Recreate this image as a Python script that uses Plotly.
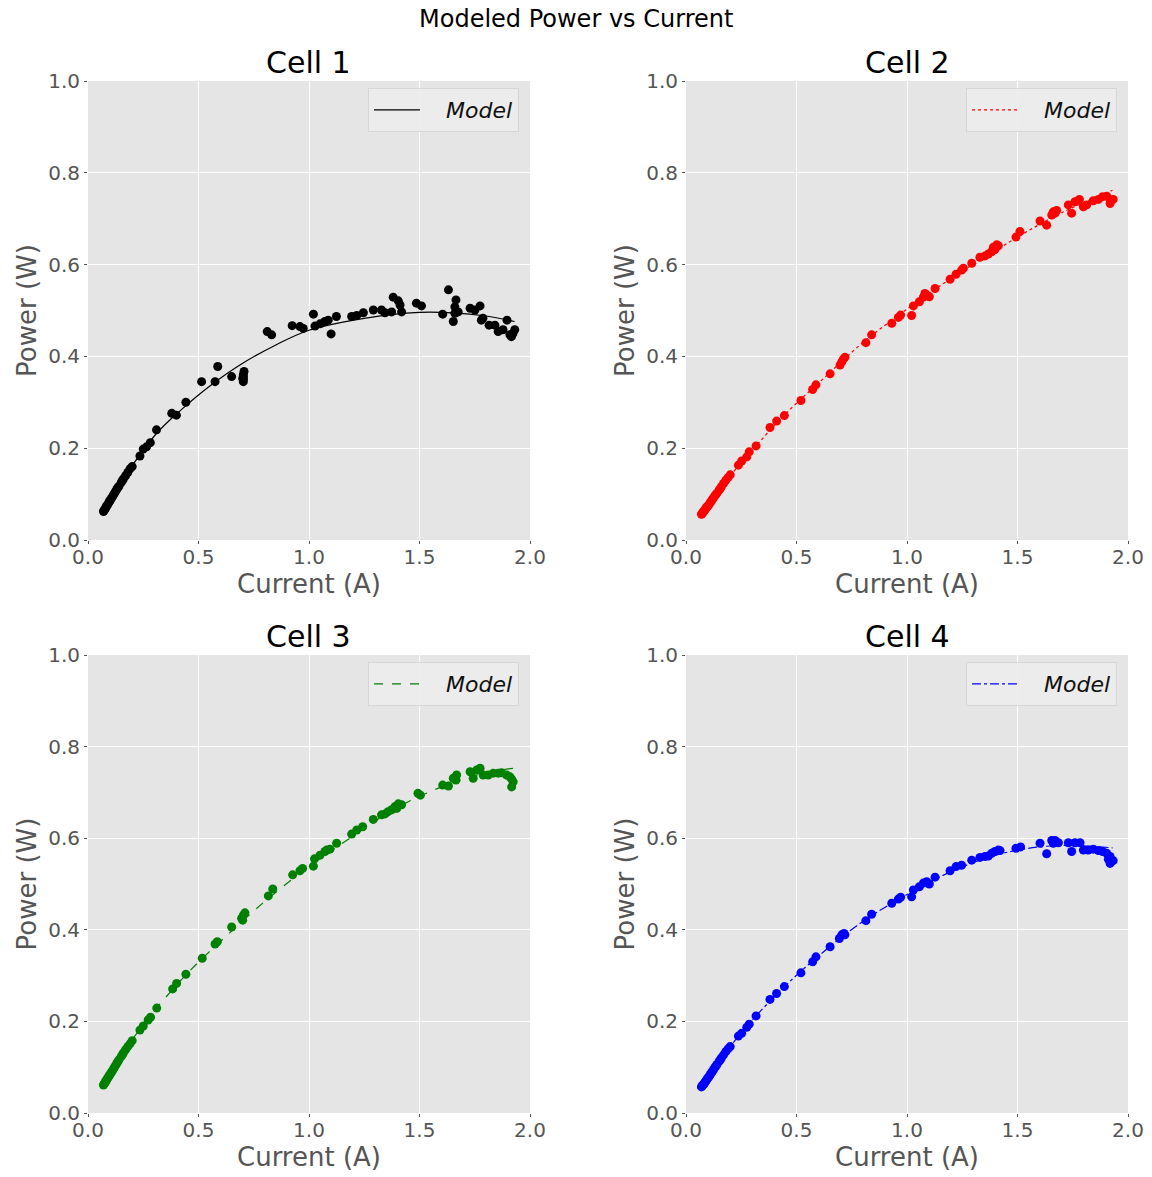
import plotly.graph_objects as go

# ---------------- data ----------------
cells = ["Cell 1", "Cell 2", "Cell 3", "Cell 4"]
colors = ["#000000", "#ff0000", "#008000", "#0000ff"]
dashes = ["solid", "dot", "dash", "dashdot"]

x_ticks = [0.0, 0.5, 1.0, 1.5, 2.0]
x_tick_labels = ["0.0", "0.5", "1.0", "1.5", "2.0"]
y_ticks = [0.0, 0.2, 0.4, 0.6, 0.8, 1.0]
y_tick_labels = ["0.0", "0.2", "0.4", "0.6", "0.8", "1.0"]

low_I = [0.07, 0.072, 0.075, 0.078, 0.08, 0.083, 0.086, 0.09, 0.093, 0.097, 0.10, 0.105, 0.11,
         0.115, 0.12, 0.125, 0.13, 0.135, 0.14, 0.15, 0.155, 0.16, 0.17, 0.18, 0.19, 0.20]

I1 = low_I + [0.235, 0.25, 0.265, 0.282, 0.31, 0.379, 0.40, 0.443, 0.514, 0.575, 0.587, 0.65,
              0.703, 0.703, 0.703, 0.703, 0.706, 0.700, 0.811, 0.831, 0.924, 0.959, 0.974,
              1.02, 1.027, 1.05, 1.072, 1.087, 1.10, 1.124, 1.193, 1.216, 1.246, 1.291,
              1.328, 1.344, 1.374, 1.381, 1.404, 1.419, 1.412, 1.486, 1.509,
              1.605, 1.631, 1.653, 1.665, 1.66, 1.66, 1.675, 1.729, 1.751, 1.774, 1.78, 1.787,
              1.815, 1.841, 1.856, 1.878, 1.896, 1.909, 1.916, 1.931, 1.923]
P1 = [0.062, 0.064, 0.066, 0.068, 0.070, 0.073, 0.075, 0.078, 0.081, 0.084, 0.086, 0.090, 0.094,
      0.098, 0.102, 0.106, 0.110, 0.114, 0.117, 0.125, 0.129, 0.133, 0.140, 0.147, 0.155, 0.160,
      0.183, 0.198, 0.203, 0.212, 0.24, 0.276, 0.272, 0.30, 0.345, 0.345, 0.378, 0.356,
      0.345, 0.35, 0.355, 0.36, 0.367, 0.352, 0.454, 0.447, 0.467, 0.465, 0.461,
      0.492, 0.466, 0.471, 0.476, 0.479, 0.449, 0.487, 0.487, 0.489, 0.495, 0.501,
      0.501, 0.495, 0.497, 0.529, 0.521, 0.497, 0.512, 0.516, 0.510,
      0.492, 0.545, 0.476, 0.523, 0.508, 0.494, 0.497, 0.505, 0.501, 0.510, 0.479, 0.483,
      0.468, 0.468, 0.454, 0.458, 0.479, 0.447, 0.443, 0.458, 0.450]

I2 = low_I + [0.237, 0.252, 0.275, 0.286, 0.317, 0.38, 0.41, 0.445, 0.52, 0.573, 0.588, 0.652,
              0.697, 0.705, 0.712, 0.719,
              0.814, 0.84, 0.931, 0.961, 0.971, 1.021, 1.029, 1.056, 1.074, 1.089, 1.101, 1.081,
              1.127, 1.195, 1.222, 1.247, 1.255, 1.293,
              1.330, 1.353, 1.368, 1.383, 1.391, 1.406, 1.413, 1.398, 1.493, 1.511, 1.602, 1.632,
              1.655, 1.662, 1.677, 1.670, 1.730, 1.745,
              1.760, 1.780, 1.798, 1.813, 1.843, 1.866, 1.885, 1.904, 1.919, 1.933, 1.919]
P2 = [0.056, 0.057, 0.059, 0.061, 0.062, 0.064, 0.066, 0.069, 0.071, 0.073, 0.075, 0.078, 0.082,
      0.085, 0.089, 0.092, 0.096, 0.099, 0.102, 0.109, 0.112, 0.116, 0.123, 0.130, 0.136, 0.142,
      0.163, 0.172, 0.181, 0.192, 0.205, 0.245, 0.259, 0.271, 0.304, 0.328, 0.338, 0.362,
      0.381, 0.388, 0.394, 0.398,
      0.43, 0.447, 0.472, 0.485, 0.49, 0.489, 0.51, 0.519, 0.529, 0.534, 0.530, 0.537,
      0.548, 0.568, 0.579, 0.588, 0.592, 0.603,
      0.616, 0.619, 0.623, 0.628, 0.638, 0.643, 0.641, 0.633, 0.660, 0.672, 0.695, 0.686,
      0.708, 0.715, 0.718, 0.712, 0.730, 0.712,
      0.737, 0.742, 0.726, 0.730, 0.739, 0.742, 0.748, 0.749, 0.742, 0.742, 0.733]

I3 = low_I + [0.235, 0.25, 0.272, 0.283, 0.311, 0.383, 0.401, 0.443, 0.517, 0.575, 0.585, 0.65,
              0.695, 0.703, 0.710, 0.700,
              0.816, 0.836, 0.926, 0.959, 0.971, 1.02, 1.025, 1.05, 1.072, 1.095, 1.08, 1.125,
              1.193, 1.216, 1.243, 1.291,
              1.328, 1.344, 1.358, 1.374, 1.389, 1.404, 1.419, 1.397, 1.493, 1.504, 1.605, 1.631,
              1.653, 1.668, 1.665,
              1.729, 1.743, 1.759, 1.774, 1.788, 1.811, 1.834, 1.856, 1.871, 1.894, 1.917, 1.924,
              1.917, 1.909]
P3 = [0.061, 0.063, 0.065, 0.067, 0.069, 0.071, 0.074, 0.077, 0.079, 0.082, 0.085, 0.088, 0.092,
      0.096, 0.100, 0.104, 0.108, 0.112, 0.116, 0.123, 0.127, 0.131, 0.138, 0.145, 0.151, 0.158,
      0.181, 0.19, 0.203, 0.209, 0.229, 0.271, 0.283, 0.303, 0.338, 0.369, 0.374, 0.406,
      0.425, 0.432, 0.437, 0.421,
      0.474, 0.489, 0.520, 0.529, 0.534, 0.539, 0.555, 0.563, 0.571, 0.576, 0.574, 0.589,
      0.609, 0.618, 0.625, 0.641,
      0.651, 0.653, 0.658, 0.662, 0.669, 0.675, 0.673, 0.665, 0.698, 0.694, 0.716, 0.714,
      0.731, 0.738, 0.727,
      0.745, 0.731, 0.749, 0.753, 0.738, 0.738, 0.742, 0.742, 0.743, 0.738, 0.729, 0.723,
      0.712, 0.734]

I4 = low_I + [0.237, 0.252, 0.275, 0.286, 0.317, 0.38, 0.41, 0.445, 0.52, 0.573, 0.588, 0.652,
              0.694, 0.705, 0.715, 0.719,
              0.814, 0.84, 0.931, 0.961, 0.971, 1.021, 1.029, 1.056, 1.074, 1.089, 1.101, 1.127,
              1.195, 1.222, 1.247, 1.293,
              1.330, 1.353, 1.368, 1.383, 1.398, 1.413, 1.421, 1.493, 1.514, 1.602, 1.632, 1.655,
              1.670, 1.685, 1.662,
              1.730, 1.745, 1.760, 1.783, 1.798, 1.820, 1.843, 1.866, 1.885, 1.904, 1.919, 1.933,
              1.919, 1.911]
P4 = [0.057, 0.058, 0.060, 0.062, 0.063, 0.065, 0.067, 0.070, 0.072, 0.075, 0.077, 0.080, 0.084,
      0.088, 0.091, 0.095, 0.099, 0.102, 0.106, 0.113, 0.116, 0.120, 0.127, 0.134, 0.140, 0.145,
      0.168, 0.174, 0.187, 0.194, 0.212, 0.248, 0.261, 0.276, 0.306, 0.330, 0.341, 0.363,
      0.381, 0.389, 0.392, 0.389,
      0.420, 0.434, 0.458, 0.467, 0.471, 0.472, 0.487, 0.494, 0.502, 0.505, 0.500, 0.515,
      0.529, 0.538, 0.541, 0.552,
      0.558, 0.560, 0.561, 0.567, 0.571, 0.574, 0.573, 0.578, 0.581, 0.589, 0.566, 0.595,
      0.595, 0.590, 0.589,
      0.590, 0.571, 0.590, 0.590, 0.574, 0.574, 0.576, 0.573, 0.571, 0.567, 0.560, 0.551,
      0.545, 0.554]

M1x = [0.07, 0.19, 0.31, 0.42, 0.55, 0.7, 0.85, 1.0, 1.25, 1.5, 1.65, 1.8, 1.93]
M1y = [0.063, 0.155, 0.232, 0.283, 0.335, 0.385, 0.425, 0.457, 0.483, 0.496, 0.495, 0.488, 0.476]
M2x = [0.07, 0.2, 0.3, 0.4, 0.5, 0.6, 0.8, 1.0, 1.2, 1.4, 1.5, 1.7, 1.93]
M2y = [0.055, 0.14, 0.195, 0.25, 0.298, 0.342, 0.43, 0.503, 0.57, 0.63, 0.66, 0.713, 0.762]
M3x = [0.07, 0.2, 0.3, 0.45, 0.6, 0.8, 1.0, 1.2, 1.4, 1.6, 1.8, 1.93]
M3y = [0.062, 0.16, 0.223, 0.305, 0.375, 0.462, 0.538, 0.605, 0.667, 0.712, 0.743, 0.753]
M4x = [0.07, 0.2, 0.3, 0.45, 0.6, 0.8, 1.0, 1.2, 1.4, 1.6, 1.75, 1.93]
M4y = [0.058, 0.145, 0.203, 0.278, 0.343, 0.418, 0.477, 0.527, 0.563, 0.581, 0.584, 0.579]

currents = [I1, I2, I3, I4]
powers = [P1, P2, P3, P4]
model_x = [M1x, M2x, M3x, M4x]
model_y = [M1y, M2y, M3y, M4y]

# ---------------- layout geometry ----------------
W, H = 1152, 1177
FONT = "DejaVu Sans"
GRAY = "#555555"

x_domains = [(88 / W, 530 / W), (686 / W, 1128 / W)]
y_domains = [(1 - 540 / H, 1 - 81 / H), (1 - 1113 / H, 1 - 655 / H)]

fig = go.Figure()
layout = dict(
    width=W, height=H,
    margin=dict(l=0, r=0, t=0, b=0, autoexpand=False),
    paper_bgcolor="white",
    plot_bgcolor="#E5E5E5",
    font=dict(family=FONT, color=GRAY),
    showlegend=True,
    annotations=[],
)

for k in range(4):
    r, c = divmod(k, 2)
    sfx = "" if k == 0 else str(k + 1)
    xa, ya = "x" + sfx, "y" + sfx
    leg = "legend" + sfx

    fig.add_trace(go.Scatter(
        x=currents[k], y=powers[k], mode="markers",
        marker=dict(color=colors[k], size=9, line=dict(width=0)),
        xaxis=xa, yaxis=ya, showlegend=False, hoverinfo="x+y"))
    fig.add_trace(go.Scatter(
        x=model_x[k], y=model_y[k], mode="lines", name="\u00a0\u00a0\u00a0Model",
        line=dict(color=colors[k], width=1.2, dash=dashes[k], shape="spline"),
        xaxis=xa, yaxis=ya, legend=leg, showlegend=True))

    axis_common = dict(
        showgrid=True, gridcolor="white", gridwidth=1.2, zeroline=False,
        showline=False, ticks="outside", ticklen=3, tickwidth=1, tickcolor=GRAY,
        tickfont=dict(family=FONT, size=20, color=GRAY), automargin=False,
    )
    layout["xaxis" + sfx] = dict(
        axis_common, domain=x_domains[c], range=[0, 2], anchor=ya,
        tickvals=x_ticks, ticktext=x_tick_labels, ticklabelstandoff=-4,
        title=dict(text="Current (A)", font=dict(family=FONT, size=26, color=GRAY), standoff=2),
    )
    layout["yaxis" + sfx] = dict(
        axis_common, domain=y_domains[r], range=[0, 1], anchor=xa,
        tickvals=y_ticks, ticktext=y_tick_labels,
        title=dict(text="Power (W)", font=dict(family=FONT, size=26, color=GRAY), standoff=4),
    )
    layout[leg] = dict(
        x=x_domains[c][1] - 11 / W, y=y_domains[r][1] - 7 / H,
        xanchor="right", yanchor="top",
        bgcolor="rgba(236,236,236,0.9)", bordercolor="#d6d6d6", borderwidth=1,
        font=dict(family=FONT, size=22, color="#111111", style="italic"),
        itemwidth=46,
    )
    layout["annotations"].append(dict(
        text=cells[k], xref="paper", yref="paper",
        x=(x_domains[c][0] + x_domains[c][1]) / 2, y=y_domains[r][1] - 1 / H,
        xanchor="center", yanchor="bottom", showarrow=False,
        font=dict(family=FONT, size=30, color="black")))

layout["annotations"].append(dict(
    text="Modeled Power vs Current", xref="paper", yref="paper",
    x=0.5, y=1 - 3 / H, xanchor="center", yanchor="top", showarrow=False,
    font=dict(family=FONT, size=24, color="black")))

fig.update_layout(**layout)
fig.write_html(
    "out.html",
    config={"displayModeBar": False},
    post_script="document.body.style.margin='0';document.body.style.overflow='hidden';",
)
